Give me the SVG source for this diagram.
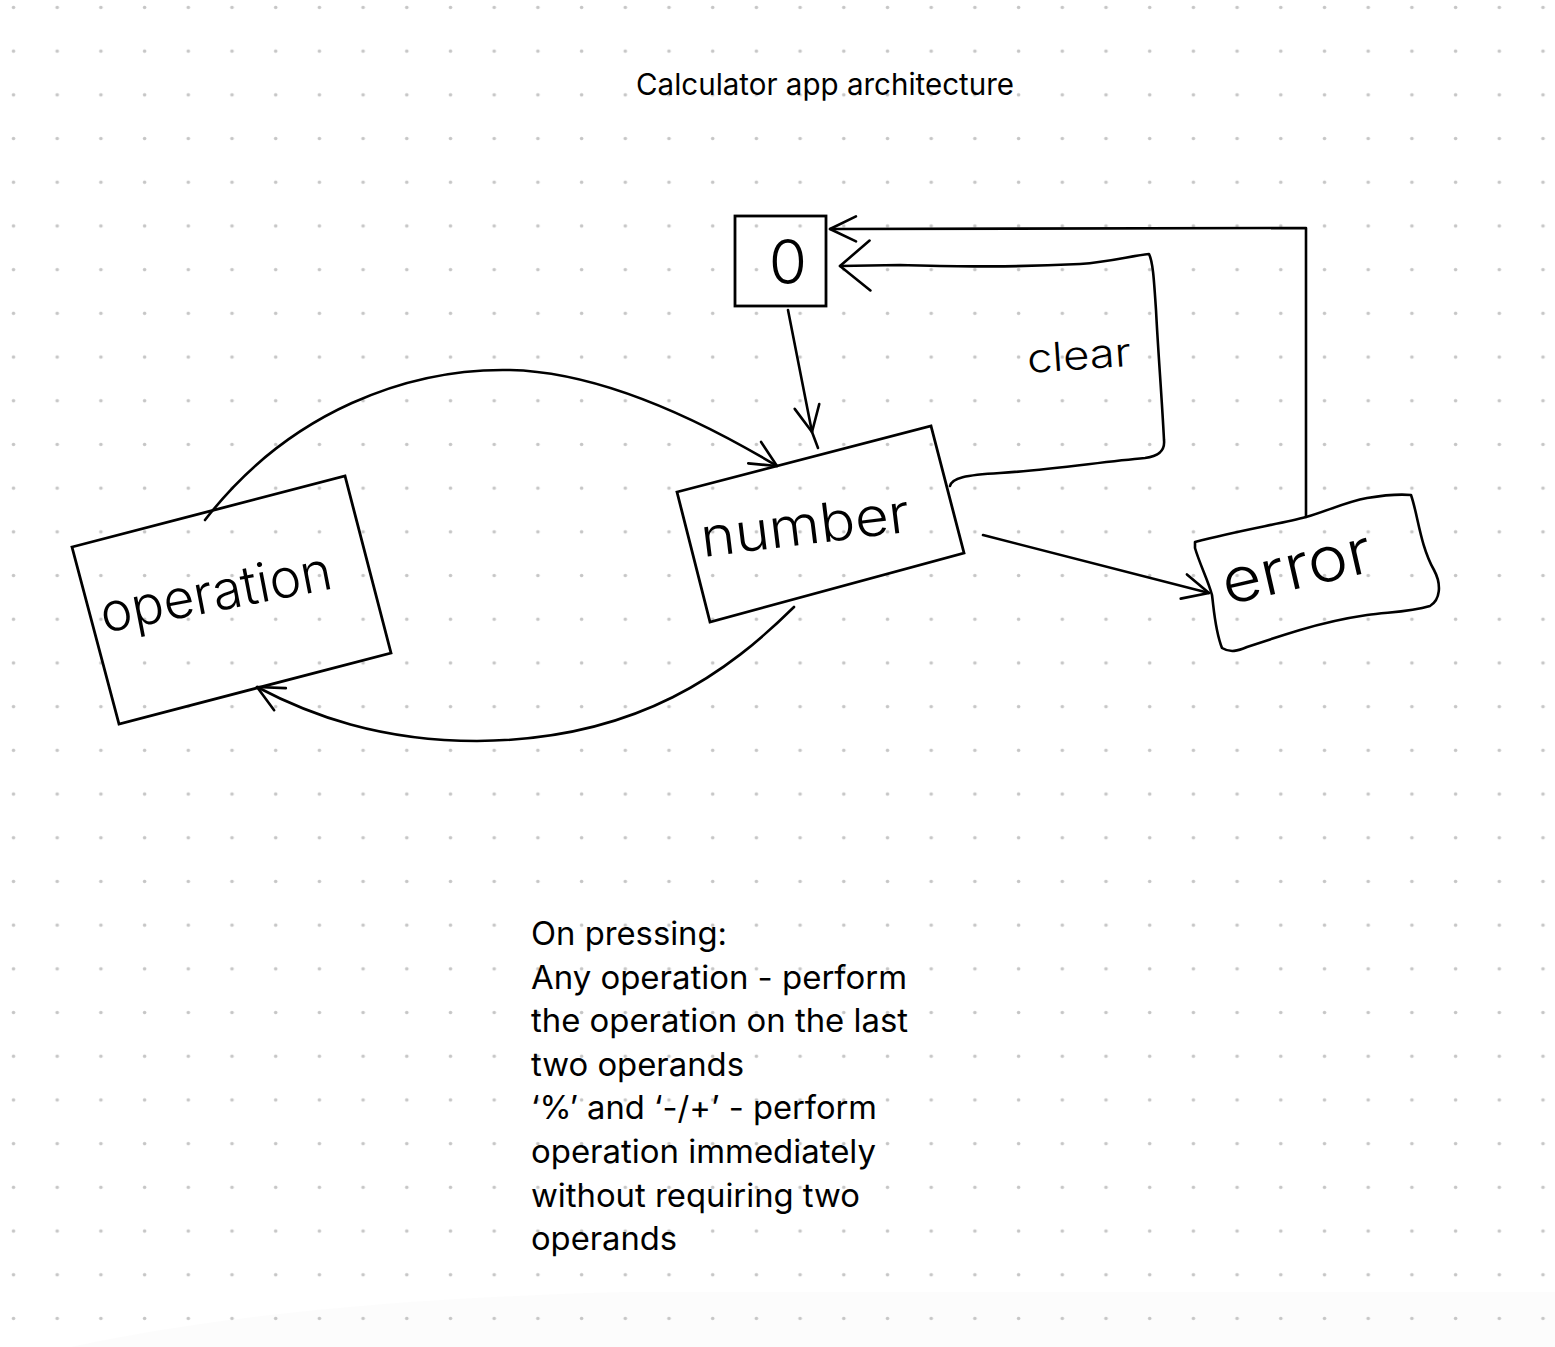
<svg xmlns="http://www.w3.org/2000/svg" width="1555" height="1347" viewBox="0 0 1555 1347">
<style>
.edge{fill:none;stroke:#000;stroke-width:2.6;stroke-linecap:round;stroke-linejoin:round}
.box{fill:none;stroke:#000;stroke-width:2.8;stroke-linejoin:miter}
.hand{font-family:Inter,"Liberation Sans",sans-serif;font-weight:300;fill:#000}
.txt{font-family:Inter,"Liberation Sans",sans-serif;fill:#000}
</style>
<defs>
<pattern id="dots" patternUnits="userSpaceOnUse" x="0" y="0" width="43.7" height="43.7">
<circle cx="13.5" cy="7.5" r="1.8" fill="#c6c6c6"/>
</pattern>
<marker id="arrow" viewBox="-34 -18 38 36" refX="0" refY="0" markerWidth="38" markerHeight="36" markerUnits="userSpaceOnUse" orient="auto">
<path d="M-26,-12.5 L0,0 L-26,12.5" fill="none" stroke="#000" stroke-width="2.6" stroke-linecap="round" stroke-linejoin="round"/>
</marker>
<marker id="arrow-lg" viewBox="-36 -30 40 60" refX="0" refY="0" markerWidth="40" markerHeight="60" markerUnits="userSpaceOnUse" orient="auto">
<path d="M-30,-25 L0,0 L-30,25" fill="none" stroke="#000" stroke-width="2.6" stroke-linecap="round" stroke-linejoin="round"/>
</marker>
</defs>
<rect width="1555" height="1347" fill="#ffffff"/>
<path d="M70,1347 C160,1328 320,1300 620,1292 L1555,1292 L1555,1347 Z" fill="#000" fill-opacity="0.01"/>
<rect width="1555" height="1347" fill="url(#dots)"/>

<text class="txt" x="636" y="95" font-size="30" textLength="378" lengthAdjust="spacingAndGlyphs">Calculator app architecture</text>

<g id="connectors">
<path class="edge" d="M205,520 C290,410 410,368 510,370 C600,372 700,420 777,466" marker-end="url(#arrow)"/>
<path class="edge" d="M794,607 C730,670 640,740 477,741 C380,741 310,715 257,687" marker-end="url(#arrow)"/>
<path class="edge" d="M788,310 L812,432" marker-end="url(#arrow)"/>
<path class="edge" d="M812,432 L818,448"/>
<path class="edge" d="M983,535 L1209,593" marker-end="url(#arrow)"/>
<path class="edge" d="M1306,517 L1306,228 L830,229" marker-end="url(#arrow)"/>
<path class="edge" d="M950,486 C952,478 965,475 1000,473 C1050,470 1100,462 1145,458 C1160,456 1165,450 1164,440 C1162,400 1158,350 1156,310 C1154,280 1153,262 1149,254 C1130,256 1110,262 1080,264 C1000,268 950,266 900,265 L840,266" marker-end="url(#arrow-lg)"/>
<text class="hand" x="0" y="0" font-size="40" textLength="104" lengthAdjust="spacingAndGlyphs" transform="translate(1028,373) rotate(-4)">clear</text>
</g>

<g id="node-zero">
<rect class="box" x="735" y="216" width="91" height="90"/>
<text class="hand" x="788" y="284" font-size="62" text-anchor="middle">0</text>
</g>

<g id="node-operation">
<polygon class="box" points="72,547 345,476 391,653 119,724"/>
<text class="hand" x="0" y="0" font-size="54" textLength="235" lengthAdjust="spacingAndGlyphs" transform="translate(104,633) rotate(-11)">operation</text>
</g>

<g id="node-number">
<polygon class="box" points="677,492 931,426 964,553 710,622"/>
<text class="hand" x="0" y="0" font-size="54" textLength="210" lengthAdjust="spacingAndGlyphs" transform="translate(703,557) rotate(-7)">number</text>
</g>

<g id="node-error">
<path class="edge" d="M1195,542 C1240,530 1280,524 1306,517 C1325,512 1345,502 1367,498 C1385,495 1400,494 1411,495 C1418,515 1420,545 1434,570 C1442,585 1440,600 1430,606 C1410,612 1390,612 1367,615 C1340,619 1320,624 1300,630 C1280,636 1262,642 1247,647 C1238,651 1230,653 1222,648 C1215,630 1214,610 1212,595 C1208,580 1200,565 1195,548 Z"/>
<text class="hand" x="0" y="0" font-size="62" textLength="152" lengthAdjust="spacingAndGlyphs" transform="translate(1227,605) rotate(-13)">error</text>
</g>

<g id="note">
<text class="txt" font-size="32" x="531" y="945" textLength="196" lengthAdjust="spacingAndGlyphs">On pressing:</text>
<text class="txt" font-size="32" x="531" y="989" textLength="376" lengthAdjust="spacingAndGlyphs">Any operation - perform</text>
<text class="txt" font-size="32" x="531" y="1032" textLength="377" lengthAdjust="spacingAndGlyphs">the operation on the last</text>
<text class="txt" font-size="32" x="531" y="1076" textLength="213" lengthAdjust="spacingAndGlyphs">two operands</text>
<text class="txt" font-size="32" x="531" y="1119" textLength="346" lengthAdjust="spacingAndGlyphs">‘%’ and ‘-/+’ - perform</text>
<text class="txt" font-size="32" x="531" y="1163" textLength="345" lengthAdjust="spacingAndGlyphs">operation immediately</text>
<text class="txt" font-size="32" x="531" y="1207" textLength="329" lengthAdjust="spacingAndGlyphs">without requiring two</text>
<text class="txt" font-size="32" x="531" y="1250" textLength="146" lengthAdjust="spacingAndGlyphs">operands</text>
</g>
</svg>
